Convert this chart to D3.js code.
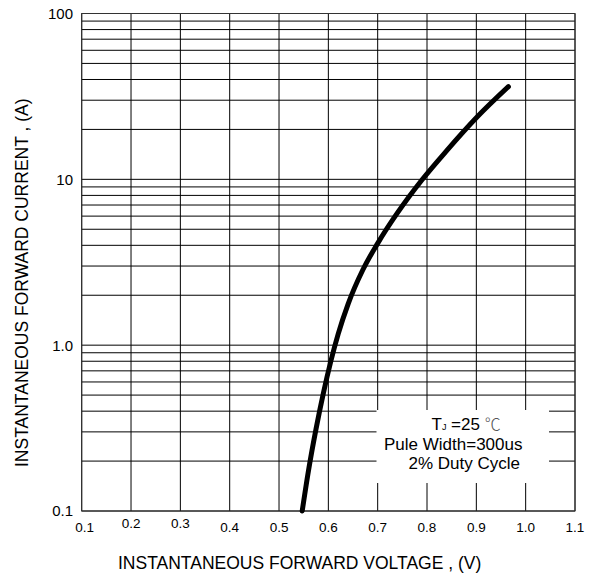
<!DOCTYPE html>
<html><head><meta charset="utf-8">
<script src="https://cdn.jsdelivr.net/npm/d3@7"></script>
<style>html,body{margin:0;padding:0;background:#fff;} svg{display:block;}</style>
</head><body>
<svg id="chart" width="592" height="578"></svg>
<script>
// ---- data ----
const voltage = [0.547, 0.56, 0.575, 0.59, 0.605, 0.62, 0.64, 0.67, 0.70, 0.74, 0.79, 0.84, 0.90, 0.965];
const current = [0.100, 0.177, 0.312, 0.515, 0.80, 1.17, 1.77, 2.85, 4.11, 6.27, 9.94, 14.9, 23.5, 36.2];
const xTickValues = [0.1, 0.2, 0.3, 0.4, 0.5, 0.6, 0.7, 0.8, 0.9, 1.0, 1.1];
const xTickLabels = ["0.1", "0.2", "0.3", "0.4", "0.5", "0.6", "0.7", "0.8", "0.9", "1.0", "1.1"];
const yTickValues = [0.1, 1, 10, 100];
const yTickLabels = ["0.1", "1.0", "10", "100"];
const xTitle = "INSTANTANEOUS FORWARD VOLTAGE , (V)";
const yTitle = "INSTANTANEOUS FORWARD CURRENT , (A)";
const legendLine2 = "Pule Width=300us";
const legendLine3 = "2% Duty Cycle";

// ---- layout ----
const L = 81.7, R = 575, T = 13.5, B = 511;
const svg = d3.select("#chart");
const font = "'Liberation Sans', Arial, sans-serif";

const x = d3.scaleLinear().domain([0.1, 1.1]).range([L, R]);
const y = d3.scaleLog().domain([0.1, 100]).range([B, T]);

const grid = svg.append("g").attr("stroke", "#000").attr("stroke-width", 1).attr("fill", "none");
// horizontal log grid
grid.selectAll("line.h").data(y.ticks()).join("line")
  .attr("class", "h")
  .attr("x1", L).attr("x2", R)
  .attr("y1", d => y(d)).attr("y2", d => y(d));
// vertical grid
grid.selectAll("line.v").data(xTickValues).join("line")
  .attr("class", "v")
  .attr("x1", d => x(d)).attr("x2", d => x(d))
  .attr("y1", B).attr("y2", T);
// frame
svg.append("rect").attr("x", L).attr("y", T).attr("width", R - L).attr("height", B - T)
  .attr("fill", "none").attr("stroke", "#333").attr("stroke-width", 1);

// legend box (white background hiding the grid)
svg.append("rect").attr("x", 376.5).attr("y", 410).attr("width", 172.5).attr("height", 73)
  .attr("fill", "#fff");

const leg = svg.append("g").attr("font-family", font).attr("font-size", 17).attr("fill", "#000");
const t1 = leg.append("text").attr("x", 431.5).attr("y", 430);
t1.append("tspan").text("T");
t1.append("tspan").attr("font-size", 9).text("J");
t1.append("tspan").text(" =25 ");
t1.append("tspan").attr("font-family", "'Noto Sans CJK SC', sans-serif").attr("font-size", 16)
  .attr("font-weight", 300).attr("fill", "#555").text("℃");
leg.append("text").attr("x", 384).attr("y", 450).text(legendLine2);
leg.append("text").attr("x", 408.5).attr("y", 469).text(legendLine3);

// curve
const line = d3.line().x(d => x(d[0])).y(d => y(d[1])).curve(d3.curveMonotoneX);
svg.append("path").datum(voltage.map((v, i) => [v, current[i]]))
  .attr("d", line).attr("fill", "none").attr("stroke", "#000")
  .attr("stroke-width", 5).attr("stroke-linecap", "round").attr("stroke-linejoin", "round");

// x tick labels
const raised = new Set(["0.2", "0.3"]);
svg.append("g").attr("font-family", font).attr("font-size", 13.5).attr("fill", "#000")
  .selectAll("text").data(xTickValues).join("text")
  .attr("x", (d, i) => x(d) + (i === 0 ? 3 : 0))
  .attr("y", (d, i) => raised.has(xTickLabels[i]) ? 527.5 : 532)
  .attr("text-anchor", "middle")
  .text((d, i) => xTickLabels[i]);

// y tick labels
svg.append("g").attr("font-family", font).attr("font-size", 15).attr("fill", "#000")
  .selectAll("text").data(yTickValues).join("text")
  .attr("x", 73).attr("y", d => y(d)).attr("dy", "0.36em")
  .attr("text-anchor", "end")
  .text((d, i) => yTickLabels[i]);

// axis titles
svg.append("text").attr("x", 118).attr("y", 569)
  .attr("font-family", font).attr("font-size", 17.5).attr("fill", "#000").text(xTitle);
svg.append("text").attr("transform", "translate(27.5,467) rotate(-90)")
  .attr("font-family", font).attr("font-size", 17.5).attr("fill", "#000").text(yTitle);
</script>
</body></html>
